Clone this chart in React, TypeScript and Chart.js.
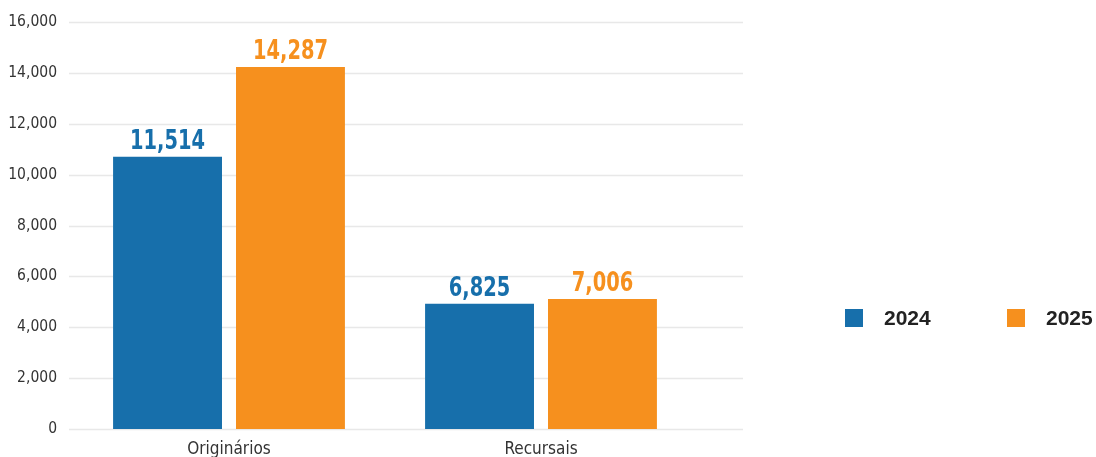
import React, { useEffect, useRef } from "react";
import { Chart, registerables } from "chart.js";

Chart.register(...registerables);

const categories = ["Originários", "Recursais"];
const seriesNames = ["2024", "2025"];
// bar heights as drawn in the picture
const bars2024 = [10700, 4920];
const bars2025 = [14230, 5110];
// value labels printed above the bars
const labels2024 = ["11,514", "6,825"];
const labels2025 = ["14,287", "7,006"];
const yTicks = [0, 2000, 4000, 6000, 8000, 10000, 12000, 14000, 16000];

const BLUE = "#176fab";
const ORANGE = "#f6901e";
const COND = "'DejaVu Sans Condensed', 'DejaVu Sans', sans-serif";

const valueLabels = [labels2024, labels2025];

const gridPlugin = {
  id: "extGrid",
  beforeDatasetsDraw(chart: any) {
    const { ctx, scales } = chart;
    const y = scales.y;
    ctx.save();
    ctx.strokeStyle = "#e8e8e8";
    ctx.lineWidth = 1.5;
    yTicks.forEach((t) => {
      const py = Math.round(y.getPixelForValue(t)) + 0.5;
      ctx.beginPath();
      ctx.moveTo(61, py);
      ctx.lineTo(735, py);
      ctx.stroke();
    });
    ctx.restore();
  },
};

const labelPlugin = {
  id: "valLabels",
  afterDatasetsDraw(chart: any) {
    const { ctx } = chart;
    chart.data.datasets.forEach((ds: any, di: number) => {
      const meta = chart.getDatasetMeta(di);
      meta.data.forEach((el: any, i: number) => {
        ctx.save();
        ctx.font = `bold 27px ${COND}`;
        ctx.textAlign = "center";
        ctx.textBaseline = "alphabetic";
        ctx.fillStyle = ds.backgroundColor;
        ctx.translate(el.x, el.y - 8);
        ctx.scale(0.8, 1);
        ctx.fillText(valueLabels[di][i], 0, 0);
        ctx.restore();
      });
    });
  },
};

const legendPlugin = {
  id: "customLegend",
  afterDraw(chart: any) {
    const { ctx } = chart;
    const xs = [837, 999];
    ctx.save();
    ctx.font = "bold 21px 'Liberation Sans', sans-serif";
    ctx.textBaseline = "middle";
    ctx.textAlign = "left";
    chart.data.datasets.forEach((ds: any, i: number) => {
      ctx.fillStyle = ds.backgroundColor;
      ctx.fillRect(xs[i], 301, 18, 18);
      ctx.fillStyle = "#222222";
      ctx.fillText(ds.label, xs[i] + 39, 311);
    });
    ctx.restore();
  },
};

export default function App() {
  const ref = useRef<HTMLCanvasElement>(null);
  useEffect(() => {
    document.documentElement.style.overflow = "hidden";
    if (!ref.current) return;
    const chart = new Chart(ref.current, {
      type: "bar",
      data: {
        labels: categories,
        datasets: [
          {
            label: seriesNames[0],
            data: bars2024,
            backgroundColor: BLUE,
            categoryPercentage: 0.788,
            barPercentage: 0.886,
          },
          {
            label: seriesNames[1],
            data: bars2025,
            backgroundColor: ORANGE,
            categoryPercentage: 0.788,
            barPercentage: 0.886,
          },
        ],
      },
      options: {
        responsive: false,
        animation: false,
        layout: { padding: { top: 14, right: 399, left: 0, bottom: 0 } },
        plugins: {
          legend: { display: false },
          tooltip: { enabled: false },
        },
        scales: {
          x: {
            grid: { display: false, drawTicks: false },
            border: { display: false },
            ticks: {
              color: "#333333",
              font: { family: COND, size: 17 },
              padding: 10,
            },
            afterFit(scale: any) {
              scale.height = 39;
              scale.paddingLeft = 0;
              scale.paddingRight = 0;
            },
          },
          y: {
            min: 0,
            max: 16000,
            grid: { display: false, drawTicks: false },
            border: { display: false },
            afterBuildTicks(scale: any) {
              scale.ticks = yTicks.map((v) => ({ value: v }));
            },
            ticks: {
              color: "#333333",
              font: { family: COND, size: 15.5 },
              padding: 16,
              callback: (v: any) => Number(v).toLocaleString("en-US"),
            },
            afterFit(scale: any) {
              scale.width = 65;
              scale.paddingTop = 0;
              scale.paddingBottom = 0;
            },
          },
        },
      },
      plugins: [gridPlugin, labelPlugin, legendPlugin],
    });
    return () => chart.destroy();
  }, []);
  return (
    <canvas
      ref={ref}
      width={1088}
      height={460}
      style={{ display: "block", position: "absolute", left: 8, top: 8 }}
    />
  );
}
